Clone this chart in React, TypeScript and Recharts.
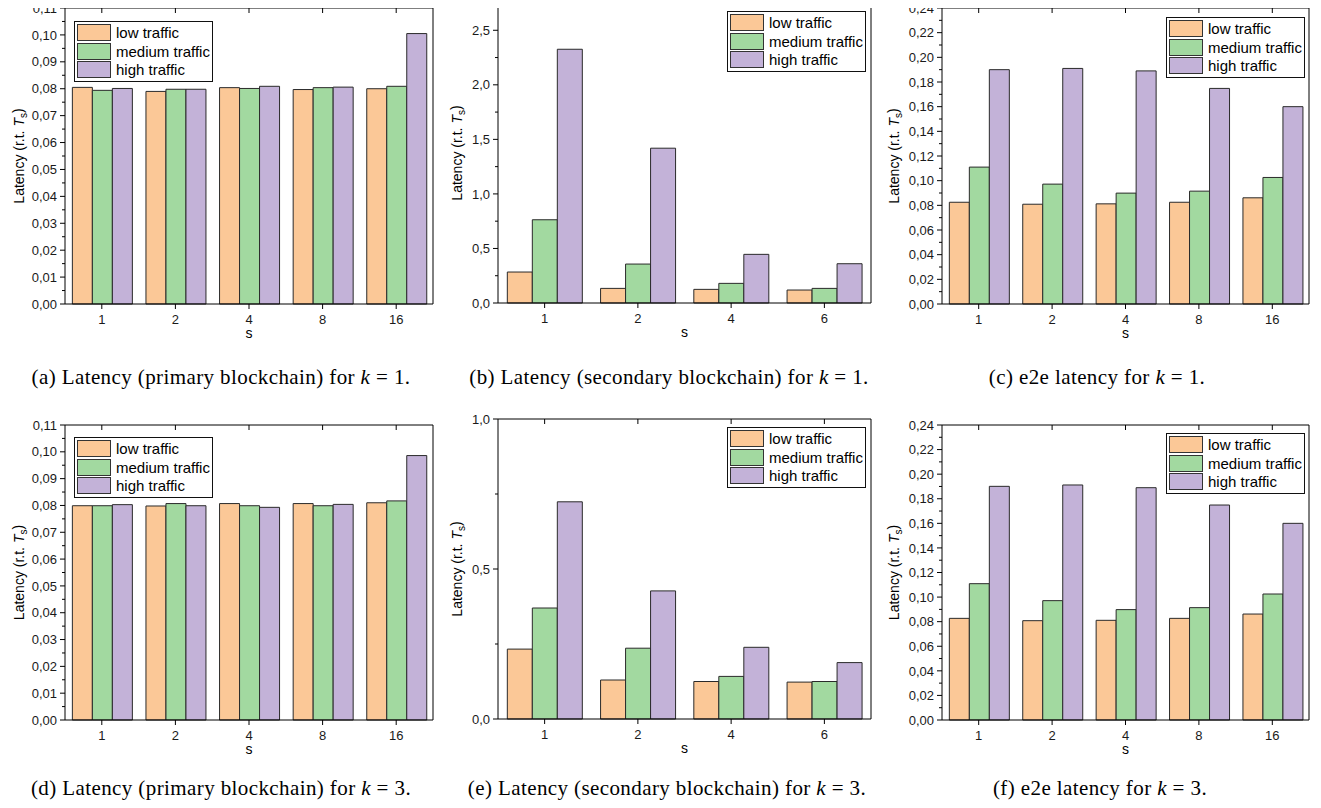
import React from "react";
import { Bar, BarChart, Legend, XAxis, YAxis } from "recharts";

const SERIES = ["low traffic", "medium traffic", "high traffic"];
const KEYS = ["low", "medium", "high"];
const COLORS = ["#FBC897", "#A2D9A0", "#C3B2D8"];

const S_PRIMARY = ["1", "2", "4", "8", "16"];
const S_SECONDARY = ["1", "2", "4", "6"];

// primary blockchain, k = 1
const PRIMARY_K1_LOW = [0.0805, 0.079, 0.0804, 0.0797, 0.08];
const PRIMARY_K1_MEDIUM = [0.0794, 0.0798, 0.0801, 0.0804, 0.0809];
const PRIMARY_K1_HIGH = [0.0801, 0.0798, 0.0809, 0.0806, 0.1005];

// secondary blockchain, k = 1
const SECONDARY_K1_LOW = [0.284, 0.134, 0.125, 0.119];
const SECONDARY_K1_MEDIUM = [0.763, 0.357, 0.18, 0.134];
const SECONDARY_K1_HIGH = [2.326, 1.419, 0.446, 0.36];

// e2e, k = 1
const E2E_K1_LOW = [0.0825, 0.0809, 0.0812, 0.0825, 0.0861];
const E2E_K1_MEDIUM = [0.111, 0.0972, 0.0899, 0.0915, 0.1026];
const E2E_K1_HIGH = [0.19, 0.191, 0.189, 0.1748, 0.16];

// primary blockchain, k = 3
const PRIMARY_K3_LOW = [0.0799, 0.0798, 0.0807, 0.0807, 0.081];
const PRIMARY_K3_MEDIUM = [0.0799, 0.0807, 0.0799, 0.0799, 0.0817];
const PRIMARY_K3_HIGH = [0.0803, 0.0799, 0.0793, 0.0804, 0.0986];

// secondary blockchain, k = 3
const SECONDARY_K3_LOW = [0.233, 0.13, 0.125, 0.123];
const SECONDARY_K3_MEDIUM = [0.37, 0.236, 0.142, 0.125];
const SECONDARY_K3_HIGH = [0.724, 0.427, 0.239, 0.188];

// e2e, k = 3
const E2E_K3_LOW = [0.0827, 0.0808, 0.0811, 0.0827, 0.0862];
const E2E_K3_MEDIUM = [0.1109, 0.0971, 0.0898, 0.0914, 0.1025];
const E2E_K3_HIGH = [0.1901, 0.1912, 0.189, 0.1749, 0.16];

const PRIMARY_TICKS = [0, 0.01, 0.02, 0.03, 0.04, 0.05, 0.06, 0.07, 0.08, 0.09, 0.1, 0.11];
const SECONDARY_K1_TICKS = [0, 0.5, 1, 1.5, 2, 2.5];
const SECONDARY_K3_TICKS = [0, 0.5, 1];
const E2E_TICKS = [0, 0.02, 0.04, 0.06, 0.08, 0.1, 0.12, 0.14, 0.16, 0.18, 0.2, 0.22, 0.24];

type Row = { s: string; low: number; medium: number; high: number };

function buildRows(cats: string[], low: number[], medium: number[], high: number[]): Row[] {
  return cats.map((s, i) => ({ s, low: low[i], medium: medium[i], high: high[i] }));
}

const FONT = "'Liberation Sans', Arial, sans-serif";
const TICK_STYLE = { fontFamily: FONT, fontSize: "13px", fill: "#1a1a1a" };
const LABEL_STYLE = { fontFamily: FONT, fontSize: "14px", fill: "#000" };
// outer margin around the plot box; the axes themselves take 1px each
const M = { top: 11, right: 11, bottom: 39, left: 69 };

type Rect = { left: number; top: number; right: number; bottom: number };

type PanelProps = {
  rows: Row[];
  plot: Rect;
  yMax: number;
  majors: number[];
  decimals: number;
  legendAt: [number, number];
  labelGap: number;
};

function fmt(v: number, d: number) {
  return v.toFixed(d).replace(".", ",");
}

function LegendBox() {
  return (
    <div
      style={{
        border: "1px solid #111",
        background: "#fff",
        padding: "1px 2px 2px 2px",
        fontFamily: FONT,
        fontSize: 15,
        color: "#000",
        whiteSpace: "nowrap",
      }}
    >
      {SERIES.map((name, i) => (
        <div key={name} style={{ display: "flex", alignItems: "center", height: 18.7 }}>
          <span
            style={{
              display: "inline-block",
              width: 32,
              height: 15,
              background: COLORS[i],
              border: "1px solid #333",
              marginRight: 5,
            }}
          />
          <span>{name}</span>
        </div>
      ))}
    </div>
  );
}

function Panel({ rows, plot, yMax, majors, decimals, legendAt, labelGap }: PanelProps) {
  const w = plot.right - plot.left + M.left + M.right + 2;
  const h = plot.bottom - plot.top + M.top + M.bottom + 2;
  const chartLeft = plot.left - M.left - 1;
  const chartTop = plot.top - M.top - 1;

  // minor ticks sit halfway between major ones
  const minors = majors.slice(1).map((v, i) => (v + majors[i]) / 2);
  const allTicks = [...majors, ...minors].sort((a, b) => a - b);
  const isMajor = (v: number) => majors.some((m) => Math.abs(m - v) < 1e-9);

  const leftTick = (props: any) => {
    const { x, y, payload } = props;
    const major = isMajor(payload.value);
    return (
      <g>
        <line x1={x - (major ? 5 : 3)} x2={x} y1={y} y2={y} stroke="#000" />
        {major && (
          <text x={x - 8} y={y} dy="0.36em" textAnchor="end" style={TICK_STYLE}>
            {fmt(payload.value, decimals)}
          </text>
        )}
      </g>
    );
  };

  const rightTick = (props: any) => {
    const { x, y, payload } = props;
    const major = isMajor(payload.value);
    return <line x1={x - (major ? 5 : 3)} x2={x} y1={y} y2={y} stroke="#000" />;
  };

  const bottomTick = (props: any) => {
    const { x, y, payload } = props;
    return (
      <g>
        <line x1={x} x2={x} y1={y} y2={y + 5} stroke="#000" />
        <text x={x} y={y + 20} textAnchor="middle" style={TICK_STYLE}>
          {payload.value}
        </text>
      </g>
    );
  };

  const topTick = (props: any) => {
    const { x, y } = props;
    return <line x1={x} x2={x} y1={y} y2={y + 5} stroke="#000" />;
  };

  const plotX = plot.left - chartLeft;
  const plotY = plot.top - chartTop;
  const plotW = plot.right - plot.left;
  const plotH = plot.bottom - plot.top;

  const yLabel = () => {
    const cx = plotX - labelGap;
    const cy = plotY + plotH / 2;
    return (
      <text
        x={cx}
        y={cy}
        dy="0.35em"
        transform={`rotate(-90 ${cx} ${cy})`}
        textAnchor="middle"
        style={LABEL_STYLE}
      >
        Latency (r.t. <tspan style={{ fontStyle: "italic" }}>T</tspan>
        <tspan dy="0.3em" style={{ fontSize: "10px" }}>
          s
        </tspan>
        <tspan dy="-0.3em">)</tspan>
      </text>
    );
  };

  const xLabel = () => (
    <text x={plotX + plotW / 2} y={plotY + plotH + 34} textAnchor="middle" style={LABEL_STYLE}>
      s
    </text>
  );

  return (
    <div style={{ position: "absolute", left: chartLeft, top: chartTop }}>
      <BarChart width={w} height={h} data={rows} margin={M} barCategoryGap="10%" barGap={0}>
        <XAxis
          xAxisId="bottom"
          dataKey="s"
          height={1}
          tickSize={0}
          tickMargin={0}
          tickLine={false}
          tick={bottomTick}
          interval={0}
          axisLine={{ stroke: "#000" }}
          label={xLabel}
        />
        <XAxis
          xAxisId="top"
          orientation="top"
          dataKey="s"
          height={1}
          tickSize={0}
          tickMargin={0}
          tickLine={false}
          tick={topTick}
          interval={0}
          axisLine={{ stroke: "#000" }}
        />
        <YAxis
          yAxisId="left"
          type="number"
          domain={[0, yMax]}
          ticks={allTicks}
          interval={0}
          width={1}
          tickSize={0}
          tickMargin={0}
          tickLine={false}
          tick={leftTick}
          axisLine={{ stroke: "#000" }}
          label={yLabel}
        />
        <YAxis
          yAxisId="right"
          orientation="right"
          type="number"
          domain={[0, yMax]}
          ticks={allTicks}
          interval={0}
          width={1}
          tickSize={0}
          tickMargin={0}
          tickLine={false}
          tick={rightTick}
          axisLine={{ stroke: "#000" }}
        />
        <Legend
          layout="horizontal"
          verticalAlign="middle"
          align="center"
          content={LegendBox}
          wrapperStyle={{
            left: legendAt[0] - chartLeft,
            top: legendAt[1] - chartTop,
            width: "auto",
            height: "auto",
          }}
        />
        {KEYS.map((k, i) => (
          <Bar
            key={k}
            xAxisId="bottom"
            yAxisId="left"
            dataKey={k}
            name={SERIES[i]}
            fill={COLORS[i]}
            stroke="#2a2a2a"
            strokeWidth={1}
            isAnimationActive={false}
          />
        ))}
      </BarChart>
    </div>
  );
}

function Caption({ cx, cy, children }: { cx: number; cy: number; children: React.ReactNode }) {
  return (
    <div
      style={{
        position: "absolute",
        left: cx - 260,
        width: 520,
        top: cy - 11,
        lineHeight: "22px",
        textAlign: "center",
        fontFamily: "'Liberation Serif', 'Times New Roman', serif",
        fontSize: 21,
        letterSpacing: 0.4,
        color: "#000",
        whiteSpace: "nowrap",
      }}
    >
      {children}
    </div>
  );
}

export default function App() {
  return (
    <div style={{ position: "relative", width: 1321, height: 808, margin: -8, background: "#fff", overflow: "hidden" }}>
      <Panel
        rows={buildRows(S_PRIMARY, PRIMARY_K1_LOW, PRIMARY_K1_MEDIUM, PRIMARY_K1_HIGH)}
        plot={{ left: 65, top: 8, right: 433, bottom: 304 }}
        yMax={0.11}
        majors={PRIMARY_TICKS}
        decimals={2}
        legendAt={[74, 21]}
        labelGap={46}
      />
      <Panel
        rows={buildRows(S_SECONDARY, SECONDARY_K1_LOW, SECONDARY_K1_MEDIUM, SECONDARY_K1_HIGH)}
        plot={{ left: 498, top: 3, right: 871, bottom: 303 }}
        yMax={2.75}
        majors={SECONDARY_K1_TICKS}
        decimals={1}
        legendAt={[727, 11]}
        labelGap={41}
      />
      <Panel
        rows={buildRows(S_PRIMARY, E2E_K1_LOW, E2E_K1_MEDIUM, E2E_K1_HIGH)}
        plot={{ left: 942, top: 8, right: 1309, bottom: 304 }}
        yMax={0.24}
        majors={E2E_TICKS}
        decimals={2}
        legendAt={[1166, 17]}
        labelGap={48}
      />
      <Panel
        rows={buildRows(S_PRIMARY, PRIMARY_K3_LOW, PRIMARY_K3_MEDIUM, PRIMARY_K3_HIGH)}
        plot={{ left: 65, top: 425, right: 433, bottom: 720 }}
        yMax={0.11}
        majors={PRIMARY_TICKS}
        decimals={2}
        legendAt={[74, 437]}
        labelGap={46}
      />
      <Panel
        rows={buildRows(S_SECONDARY, SECONDARY_K3_LOW, SECONDARY_K3_MEDIUM, SECONDARY_K3_HIGH)}
        plot={{ left: 498, top: 419, right: 871, bottom: 719 }}
        yMax={1}
        majors={SECONDARY_K3_TICKS}
        decimals={1}
        legendAt={[727, 427]}
        labelGap={41}
      />
      <Panel
        rows={buildRows(S_PRIMARY, E2E_K3_LOW, E2E_K3_MEDIUM, E2E_K3_HIGH)}
        plot={{ left: 942, top: 425, right: 1309, bottom: 720 }}
        yMax={0.24}
        majors={E2E_TICKS}
        decimals={2}
        legendAt={[1166, 433]}
        labelGap={48}
      />

      <Caption cx={221} cy={377}>
        (a) Latency (primary blockchain) for <i>k</i> = 1.
      </Caption>
      <Caption cx={669} cy={377}>
        (b) Latency (secondary blockchain) for <i>k</i> = 1.
      </Caption>
      <Caption cx={1097} cy={377}>
        (c) e2e latency for <i>k</i> = 1.
      </Caption>
      <Caption cx={221} cy={788}>
        (d) Latency (primary blockchain) for <i>k</i> = 3.
      </Caption>
      <Caption cx={667} cy={788}>
        (e) Latency (secondary blockchain) for <i>k</i> = 3.
      </Caption>
      <Caption cx={1100} cy={788}>
        (f) e2e latency for <i>k</i> = 3.
      </Caption>
    </div>
  );
}
